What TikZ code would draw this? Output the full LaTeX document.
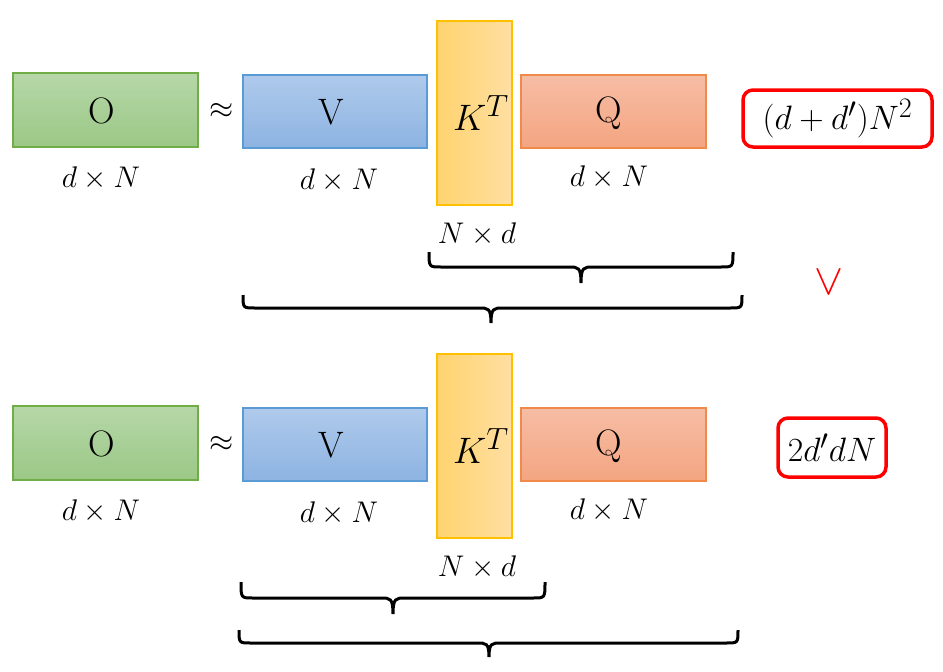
\documentclass[tikz,border=0pt]{standalone}
\definecolor{gtop}{HTML}{B6D7A8}
\definecolor{gbot}{HTML}{9BC886}
\definecolor{gbord}{HTML}{70AD47}
\definecolor{btop}{HTML}{AFCAEB}
\definecolor{bbot}{HTML}{8DB3E2}
\definecolor{bbord}{HTML}{5B9BD5}
\definecolor{kleft}{HTML}{FFD36F}
\definecolor{kright}{HTML}{FFDFA2}
\definecolor{kbord}{HTML}{FFC000}
\definecolor{qtop}{HTML}{F6BDA5}
\definecolor{qbot}{HTML}{F4A581}
\definecolor{qbord}{HTML}{F08A4B}
\newcommand{\ubr}[6]{%
  \draw[brc] (#1,#4) .. controls (#1,#5) and (#1,#5) .. (#1+12,#5) -- (#3-12,#5)
    .. controls (#3-3,#5) and (#3,#5) .. (#3,#6)
    (#3,#6) .. controls (#3,#5) and (#3+3,#5) .. (#3+12,#5) -- (#2-12,#5)
    .. controls (#2,#5) and (#2,#5) .. (#2,#4);}
\begin{document}
\begin{tikzpicture}[x=1pt,y=-1pt,
  mat/.style={draw, line width=1.2pt, inner sep=0pt},
  gbox/.style={mat, draw=gbord, top color=gtop, bottom color=gbot, minimum width=185pt, minimum height=74pt},
  bbox/.style={mat, draw=bbord, top color=btop, bottom color=bbot, minimum width=184pt, minimum height=73pt},
  kbox/.style={mat, draw=kbord, left color=kleft, right color=kright, minimum width=75pt, minimum height=184pt},
  qbox/.style={mat, draw=qbord, top color=qtop, bottom color=qbot, minimum width=185pt, minimum height=73pt},
  big/.style={inner sep=0pt, font=\Huge, scale=1.48, transform shape},
  dim/.style={inner sep=0pt, font=\Huge, scale=1.2, transform shape},
  sym/.style={inner sep=0pt, font=\Huge, scale=1.25, transform shape},
  costtxt/.style={inner sep=0pt, font=\Huge, scale=1.36, transform shape},
  cost/.style={draw=red, line width=3.5pt, rounded corners=10pt, fill=white, inner sep=0pt},
  brc/.style={line width=3pt}
]
\useasboundingbox (0,0) rectangle (943,672);
% top row
\node[gbox] (O1) at (105.5,110) {};
\node[big] (tO1) at (102,111) {O};
\node[sym] (ap1) at (222,111) {$\approx$};
\node[bbox] (V1) at (335,111.5) {};
\node[big] (tV1) at (331,112) {V};
\node[kbox] (K1) at (474.5,113) {};
\node[big] (tK1) at (481,113) {$K^T$};
\node[qbox] (Q1) at (613.5,111.5) {};
\node[big] (tQ1) at (609,113) {Q};
\node[dim] (dO1) at (101,178) {$d\times N$};
\node[dim] (dV1) at (339,180) {$d\times N$};
\node[dim] (dK1) at (477,234) {$N\times d$};
\node[dim] (dQ1) at (609,177) {$d\times N$};
\node[cost, minimum width=189pt, minimum height=57pt] (c1) at (837.5,118.5) {};
\node[costtxt] (tc1) at (c1) {$(d+d')N^2$};
\ubr{429}{733}{581}{252}{267}{283}
\ubr{243}{742}{491}{295}{308}{323}
\node[text=red, inner sep=0pt, font=\Huge, scale=1.75, transform shape] (or) at (829,282) {$\vee$};
% bottom row
\node[gbox] (O2) at (105.5,443) {};
\node[big] (tO2) at (102,444) {O};
\node[sym] (ap2) at (222,444) {$\approx$};
\node[bbox] (V2) at (335,444.5) {};
\node[big] (tV2) at (331,445) {V};
\node[kbox] (K2) at (474.5,446) {};
\node[big] (tK2) at (481,446) {$K^T$};
\node[qbox] (Q2) at (613.5,444.5) {};
\node[big] (tQ2) at (609,446) {Q};
\node[dim] (dO2) at (101,511) {$d\times N$};
\node[dim] (dV2) at (339,513) {$d\times N$};
\node[dim] (dK2) at (477,567) {$N\times d$};
\node[dim] (dQ2) at (609,510) {$d\times N$};
\node[cost, minimum width=108pt, minimum height=59pt] (c2) at (832,447.5) {};
\node[costtxt] (tc2) at (c2) {$2d'dN$};
\ubr{241}{545}{393}{582}{598}{614}
\ubr{239}{738}{489}{630}{643}{657}
\end{tikzpicture}
\end{document}
